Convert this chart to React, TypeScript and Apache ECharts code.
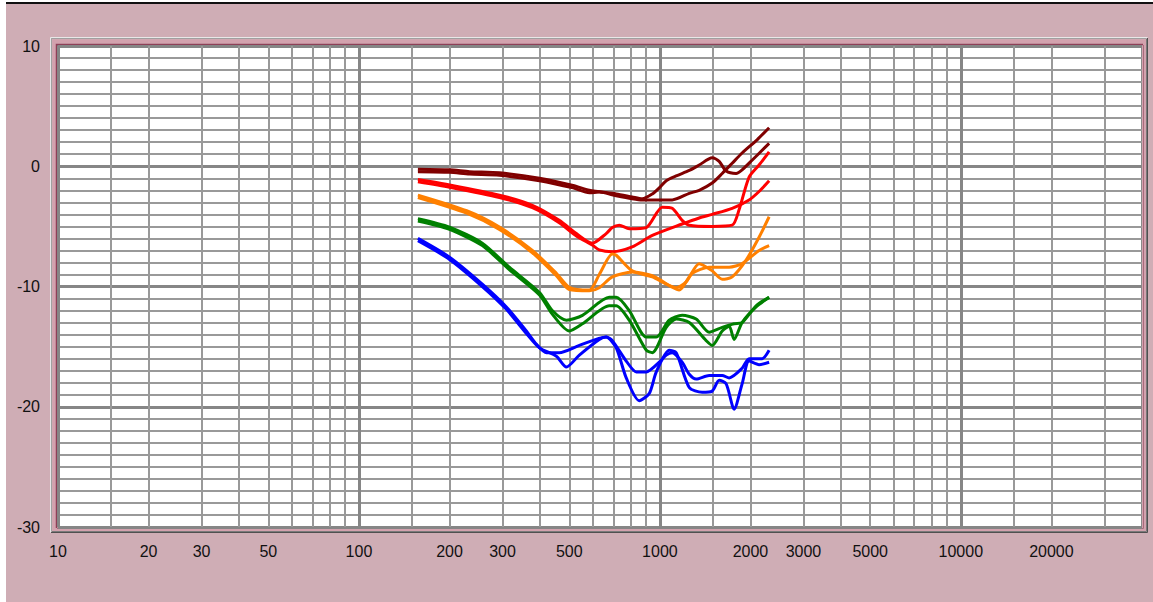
import React, { useEffect, useRef } from "react";
import * as echarts from "echarts";

// ---- axis data ----
const xMinFreq = 10;
const xMaxFreq = 40000;
const xLabelFreqs = [10, 20, 30, 50, 100, 200, 300, 500, 1000, 2000, 3000, 5000, 10000, 20000];
const decadeFreqs = [10, 100, 1000, 10000];
const minorFreqs = [
  15, 20, 30, 40, 50, 60, 70, 80, 90,
  150, 200, 300, 400, 500, 600, 700, 800, 900,
  1500, 2000, 3000, 4000, 5000, 6000, 7000, 8000, 9000,
  15000, 20000, 30000,
];
const yMin = -30;
const yMax = 10;

// ---- series data (Hz, dB) ----
const maroonAFreq = [157, 200, 233, 293, 398, 515, 583, 716, 809, 874, 944, 995, 1050, 1133, 1252, 1351, 1492, 1574, 1661, 1792, 1876, 2025, 2307];
const maroonADb = [-0.25, -0.3, -0.45, -0.55, -1.0, -1.6, -2.0, -2.3, -2.55, -2.7, -2.3, -1.8, -1.2, -0.8, -0.35, 0.1, 0.7, 0.4, -0.4, -0.6, -0.3, 0.5, 1.9];

const maroonBFreq = [157, 200, 233, 293, 398, 515, 583, 629, 716, 809, 874, 944, 1099, 1252, 1351, 1492, 1611, 1739, 1876, 2104, 2307];
const maroonBDb = [-0.45, -0.5, -0.65, -0.75, -1.2, -1.8, -2.2, -2.15, -2.45, -2.7, -2.8, -2.8, -2.8, -2.25, -2.0, -1.4, -0.6, 0.25, 1.1, 2.2, 3.2];

const redAFreq = [157, 200, 293, 377, 463, 528, 596, 663, 695, 733, 791, 901, 1018, 1099, 1186, 1252, 1492, 1739, 1834, 1979, 2136, 2307];
const redADb = [-1.1, -1.55, -2.4, -3.25, -4.5, -5.6, -6.4, -5.6, -5.1, -4.9, -5.2, -5.1, -3.4, -3.5, -4.5, -4.9, -5.0, -4.9, -3.6, -0.9, 0.1, 1.2];

const redBFreq = [157, 200, 293, 377, 463, 528, 596, 629, 695, 809, 944, 1186, 1351, 1492, 1739, 1979, 2136, 2307];
const redBDb = [-1.3, -1.75, -2.6, -3.45, -4.7, -5.8, -6.55, -6.95, -7.1, -6.7, -5.75, -4.8, -4.3, -4.0, -3.5, -2.8, -2.1, -1.2];

const orangeAFreq = [157, 228, 293, 377, 453, 500, 583, 629, 695, 716, 809, 944, 1050, 1133, 1223, 1351, 1492, 1611, 1739, 1934, 2136, 2307];
const orangeADb = [-2.4, -3.7, -5.06, -7.0, -8.9, -10.06, -10.3, -9.0, -7.3, -7.4, -8.7, -9.2, -9.8, -10.1, -9.6, -8.1, -8.7, -9.4, -9.2, -7.8, -5.9, -4.2];

const orangeBFreq = [157, 228, 293, 377, 453, 500, 583, 629, 695, 809, 944, 1099, 1159, 1281, 1458, 1699, 1876, 2136, 2307];
const orangeBDb = [-2.6, -3.9, -5.25, -7.2, -9.1, -10.25, -10.35, -10.1, -9.2, -8.8, -9.1, -10.06, -10.3, -8.9, -8.4, -8.4, -8.1, -7.0, -6.6];

const greenAFreq = [157, 200, 257, 316, 398, 439, 489, 553, 679, 716, 791, 901, 973, 1074, 1186, 1320, 1458, 1611, 1765, 1876, 2088, 2307];
const greenADb = [-4.36, -5.06, -6.4, -8.4, -10.5, -12.0, -12.8, -12.4, -10.9, -10.9, -12.0, -14.2, -14.2, -12.8, -12.4, -12.7, -13.8, -13.4, -13.1, -13.0, -11.6, -10.9];

const greenBFreq = [157, 200, 257, 316, 398, 439, 500, 553, 679, 716, 791, 901, 944, 1050, 1133, 1252, 1425, 1492, 1611, 1699, 1765, 1876, 2088, 2307];
const greenBDb = [-4.55, -5.25, -6.6, -8.6, -10.7, -12.3, -13.7, -13.1, -11.6, -11.6, -12.8, -15.3, -15.5, -13.4, -12.7, -13.0, -14.5, -14.9, -13.7, -13.3, -14.4, -13.0, -11.7, -10.9];

const blueAFreq = [157, 200, 257, 309, 360, 389, 420, 463, 540, 663, 695, 773, 835, 901, 995, 1050, 1099, 1186, 1252, 1320, 1458, 1611, 1699, 1876, 1979, 2186, 2307];
const blueADb = [-6.0, -7.56, -9.8, -11.7, -13.7, -14.8, -15.5, -15.5, -14.9, -14.2, -14.5, -16.2, -17.1, -17.1, -16.3, -15.7, -15.5, -16.3, -17.3, -17.7, -17.4, -17.4, -17.6, -16.8, -16.0, -16.0, -15.3];

const blueBFreq = [157, 200, 257, 309, 360, 398, 453, 489, 540, 629, 663, 716, 773, 854, 922, 973, 1074, 1133, 1252, 1382, 1492, 1574, 1661, 1765, 1876, 1979, 2136, 2307];
const blueBDb = [-6.2, -7.75, -10.0, -11.9, -13.9, -15.1, -15.8, -16.7, -15.7, -14.4, -14.2, -15.1, -17.6, -19.5, -18.9, -17.1, -15.3, -15.5, -18.4, -18.8, -18.7, -17.8, -18.1, -20.2, -18.1, -16.2, -16.5, -16.3];

const curves = [
  { name: "maroonA", freq: maroonAFreq, db: maroonADb, color: "#800000" },
  { name: "maroonB", freq: maroonBFreq, db: maroonBDb, color: "#800000" },
  { name: "redA", freq: redAFreq, db: redADb, color: "#ff0000" },
  { name: "redB", freq: redBFreq, db: redBDb, color: "#ff0000" },
  { name: "orangeA", freq: orangeAFreq, db: orangeADb, color: "#ff8000" },
  { name: "orangeB", freq: orangeBFreq, db: orangeBDb, color: "#ff8000" },
  { name: "greenA", freq: greenAFreq, db: greenADb, color: "#008000" },
  { name: "greenB", freq: greenBFreq, db: greenBDb, color: "#008000" },
  { name: "blueA", freq: blueAFreq, db: blueADb, color: "#0000ff" },
  { name: "blueB", freq: blueBFreq, db: blueBDb, color: "#0000ff" },
];

const lg = (v: number) => Math.log10(v);
const FONT = 'Arial, "Liberation Sans", sans-serif';

export default function App() {
  const ref = useRef<HTMLDivElement>(null);

  useEffect(() => {
    document.body.style.margin = "0";
    if (!ref.current) return;
    const chart = echarts.init(ref.current, null, { renderer: "svg" });

    const xMin = lg(xMinFreq);
    const xMax = lg(xMaxFreq);

    const option: any = {
      animation: false,
      backgroundColor: "#cfadb5",
      grid: {
        left: 58,
        top: 46,
        width: 1084,
        height: 481,
        show: true,
        backgroundColor: "#ffffff",
        borderColor: "#8a8a8a",
        borderWidth: 2,
      },
      xAxis: [
        {
          type: "value",
          min: xMin,
          max: xMax,
          position: "top",
          axisLine: { show: false },
          axisTick: { show: false, customValues: minorFreqs.map(lg) },
          axisLabel: { show: false },
          splitLine: { show: true, lineStyle: { color: "#999999", width: 2 } },
        },
        {
          type: "value",
          min: xMin,
          max: xMax,
          position: "bottom",
          axisLine: { show: false },
          axisTick: { show: false, customValues: decadeFreqs.map(lg) },
          axisLabel: {
            show: true,
            customValues: xLabelFreqs.map(lg),
            formatter: (v: number) => String(Math.round(Math.pow(10, v))),
            margin: 16,
            fontSize: 16,
            fontFamily: FONT,
            color: "#111111",
          },
          splitLine: { show: true, lineStyle: { color: "#868686", width: 3 } },
        },
      ],
      yAxis: [
        {
          type: "value",
          min: yMin,
          max: yMax,
          interval: 1,
          axisLine: { show: false },
          axisTick: { show: false },
          axisLabel: { show: false },
          splitLine: { show: true, lineStyle: { color: "#999999", width: 2 } },
        },
        {
          type: "value",
          min: yMin,
          max: yMax,
          interval: 10,
          position: "left",
          axisLine: { show: false },
          axisTick: { show: false },
          axisLabel: {
            show: true,
            margin: 18,
            fontSize: 16,
            fontFamily: FONT,
            color: "#111111",
          },
          splitLine: { show: true, lineStyle: { color: "#868686", width: 3 } },
        },
      ],
      graphic: [
        { type: "rect", silent: true, shape: { x: 0, y: 0, width: 6, height: 602 }, style: { fill: "#ffffff" } },
        { type: "rect", silent: true, shape: { x: 0, y: 0, width: 1153, height: 2 }, style: { fill: "#ffffff" } },
        { type: "rect", silent: true, shape: { x: 6, y: 2, width: 1147, height: 2 }, style: { fill: "#111111" } },
        { type: "polyline", silent: true, shape: { points: [[50.5, 532.5], [50.5, 37.5], [1147.5, 37.5]] }, style: { stroke: "#e8e8e8", lineWidth: 1, fill: null } },
        { type: "polyline", silent: true, shape: { points: [[51, 532.5], [1147.5, 532.5], [1147.5, 38]] }, style: { stroke: "#505050", lineWidth: 1, fill: null } },
        { type: "polyline", silent: true, shape: { points: [[51.5, 531.5], [51.5, 38.5], [1146.5, 38.5]] }, style: { stroke: "#a0a0a0", lineWidth: 1, fill: null } },
        { type: "polyline", silent: true, shape: { points: [[52, 531.5], [1146.5, 531.5], [1146.5, 39]] }, style: { stroke: "#7a7a7a", lineWidth: 1, fill: null } },
        { type: "rect", silent: true, shape: { x: 54.5, y: 41.5, width: 1089.5, height: 487.5 }, style: { stroke: "#d3a2ae", lineWidth: 4, fill: null } },
        { type: "polyline", silent: true, shape: { points: [[56.5, 528], [56.5, 44.5], [1143, 44.5]] }, style: { stroke: "#8e4058", lineWidth: 1.5, fill: null } },
        { type: "polyline", silent: true, shape: { points: [[57, 528.5], [1143.5, 528.5], [1143.5, 45]] }, style: { stroke: "#a86a7c", lineWidth: 1, fill: null } },
      ],
      series: curves.map((c) => ({
        name: c.name,
        type: "line",
        xAxisIndex: 0,
        yAxisIndex: 0,
        data: c.freq.map((f, i) => [lg(f), c.db[i]]),
        showSymbol: false,
        symbol: "none",
        smooth: 0.25,
        lineStyle: { color: c.color, width: 3 },
        itemStyle: { color: c.color },
        silent: true,
      })),
    };

    chart.setOption(option);
    return () => chart.dispose();
  }, []);

  return (
    <div
      ref={ref}
      style={{ position: "fixed", left: 0, top: 0, width: 1153, height: 602 }}
    />
  );
}
